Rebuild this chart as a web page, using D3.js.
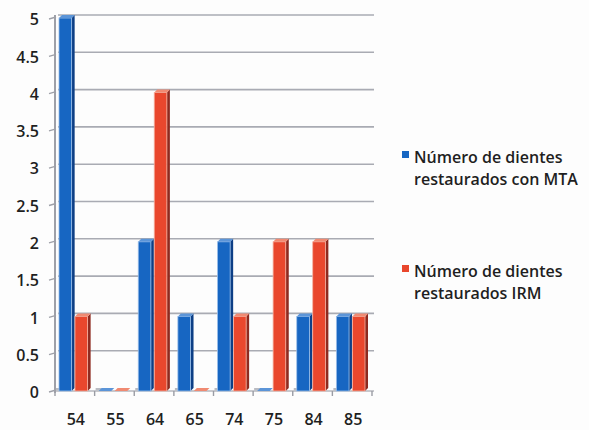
<!DOCTYPE html>
<html>
<head>
<meta charset="utf-8">
<script src="https://cdn.jsdelivr.net/npm/d3@7"></script>
<style>
  html, body { margin: 0; padding: 0; background: #fdfdfd; }
  svg { display: block; }
  text { font-family: "Open Sans", Lato, sans-serif; fill: #1f1f1f; font-weight: 600; }
</style>
</head>
<body>
<svg id="chart" width="589" height="430"></svg>
<script>
// Teeth restored per age group
const categories = ["54", "55", "64", "65", "74", "75", "84", "85"];
const seriesNames = ["Número de dientes restaurados con MTA", "Número de dientes restaurados IRM"];
const mtaValues = [5, 0, 2, 1, 2, 0, 1, 1];
const irmValues = [1, 0, 4, 0, 1, 2, 2, 1];
const yTicks = [0, 0.5, 1, 1.5, 2, 2.5, 3, 3.5, 4, 4.5, 5];
const legendLines = [["Número de dientes", "restaurados con MTA"], ["Número de dientes", "restaurados IRM"]];

const colors = [
  { front: "#1766c2", side: "#0d3f86", top: "#5c95d8", edge: "#9cc0ea" },
  { front: "#e9472d", side: "#8e2a1f", top: "#f08a72", edge: "#f5b3a3" }
];

const svg = d3.select("#chart");
const depthX = 3, depthY = 3;

const x = d3.scaleBand().domain(categories).range([55, 372]).paddingInner(0).paddingOuter(0);
const xs = d3.scaleBand().domain([0, 1]).range([0, x.bandwidth()]).paddingInner(0.02).paddingOuter(0.25);
const y = d3.scaleLinear().domain([0, 5]).range([391, 18]);

// back-wall gridlines
svg.append("g").selectAll("line").data(yTicks.filter(d => d > 0)).join("line")
  .attr("x1", 58).attr("x2", 374)
  .attr("y1", d => y(d) - depthY).attr("y2", d => y(d) - depthY)
  .attr("stroke", "#a9abb3").attr("stroke-width", 1.6);

// floor
svg.append("line").attr("x1", 55).attr("x2", 374).attr("y1", y(0)).attr("y2", y(0))
  .attr("stroke", "#b4b6bc").attr("stroke-width", 1.4);
svg.append("g").selectAll("line").data(d3.range(categories.length + 1)).join("line")
  .attr("x1", i => 55 + i * x.step()).attr("x2", i => 55 + i * x.step())
  .attr("y1", y(0)).attr("y2", y(0) + 5)
  .attr("stroke", "#9a9ca4").attr("stroke-width", 1.4);
svg.append("g").selectAll("rect").data(d3.range(categories.length)).join("rect")
  .attr("x", i => 56 + i * x.step()).attr("y", y(0) - 3)
  .attr("width", 6).attr("height", 2.5).attr("fill", "#b9bbc2");

// value axis
svg.append("line").attr("x1", 55).attr("x2", 55).attr("y1", y(0) + 2).attr("y2", y(5) - depthY)
  .attr("stroke", "#9ea0a8").attr("stroke-width", 2);
svg.append("g").selectAll("line").data(yTicks).join("line")
  .attr("x1", 49).attr("x2", 56)
  .attr("y1", d => y(d) + 1).attr("y2", d => y(d) - 1)
  .attr("stroke", "#9ea0a8").attr("stroke-width", 1.4);
svg.append("g").selectAll("text").data(yTicks).join("text")
  .attr("x", 39).attr("y", d => y(d) + 3)
  .attr("text-anchor", "end").attr("dominant-baseline", "middle")
  .attr("font-size", 16).text(d => d);

// category labels
svg.append("g").selectAll("text").data(categories).join("text")
  .attr("x", d => x(d) + x.bandwidth() / 2 + 1).attr("y", 425)
  .attr("text-anchor", "middle").attr("font-size", 16).text(d => d);

// 3D bars
const rows = [];
categories.forEach((c, i) => {
  [mtaValues[i], irmValues[i]].forEach((v, s) => rows.push({ c, s, v }));
});

const bars = svg.append("g").selectAll("g").data(rows).join("g");
bars.each(function (d) {
  const g = d3.select(this);
  const col = colors[d.s];
  const x0 = x(d.c) + xs(d.s);
  const w = xs.bandwidth() - depthX;
  const yt = y(d.v), yb = y(0);
  // side face
  g.append("path")
    .attr("d", `M${x0 + w},${yt} L${x0 + w + depthX},${yt - depthY} L${x0 + w + depthX},${yb - depthY} L${x0 + w},${yb} Z`)
    .attr("fill", col.side);
  // front face
  if (yb - yt > 0) {
    g.append("rect").attr("x", x0).attr("y", yt).attr("width", w).attr("height", yb - yt)
      .attr("fill", col.front).attr("stroke", col.edge).attr("stroke-width", 0.8);
  }
  // top face
  g.append("path")
    .attr("d", `M${x0},${yt} L${x0 + depthX},${yt - depthY} L${x0 + w + depthX},${yt - depthY} L${x0 + w},${yt} Z`)
    .attr("fill", col.top);
});

// legend
const legendY = [163, 277];
const legend = svg.append("g").selectAll("g").data(seriesNames).join("g");
legend.append("rect")
  .attr("x", 402).attr("y", (d, i) => legendY[i] - 12)
  .attr("width", 7).attr("height", 7)
  .attr("fill", (d, i) => colors[i].front);
legend.append("text")
  .attr("x", 414).attr("y", (d, i) => legendY[i])
  .attr("font-size", 16)
  .selectAll("tspan").data((d, i) => legendLines[i]).join("tspan")
  .attr("x", 414).attr("dy", (t, j) => j === 0 ? 0 : 21.5)
  .text(t => t);
</script>
</body>
</html>
